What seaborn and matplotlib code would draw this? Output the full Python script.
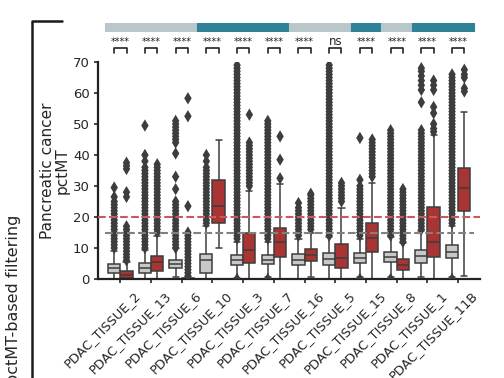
import matplotlib
matplotlib.use("Agg")
import matplotlib.pyplot as plt
from matplotlib.lines import Line2D
from matplotlib.transforms import ScaledTranslation
import seaborn as sns
import pandas as pd

samples = ["PDAC_TISSUE_2", "PDAC_TISSUE_13", "PDAC_TISSUE_6", "PDAC_TISSUE_10",
           "PDAC_TISSUE_3", "PDAC_TISSUE_7", "PDAC_TISSUE_16", "PDAC_TISSUE_5",
           "PDAC_TISSUE_15", "PDAC_TISSUE_8", "PDAC_TISSUE_1", "PDAC_TISSUE_11B"]
conditions = ["before", "after"]
sample_group = ["low", "low", "low", "high", "high", "high",
                "low", "low", "high", "low", "high", "high"]
pvalue_labels = ["****", "****", "****", "****", "****", "****",
                 "****", "ns", "****", "****", "****", "****"]
yticks = [0, 10, 20, 30, 40, 50, 60, 70]
threshold_after = 20
threshold_before = 15

# box statistics: lower whisker, Q1, median, Q3, upper whisker
before_lo = [0, 0, 0.5, 0, 0.3, 0.5, 0, 0, 0.5, 0.5, 0.5, 0.5]
before_q1 = [2.0, 2.0, 3.5, 1.8, 4.5, 4.7, 4.4, 4.5, 5.1, 5.6, 5.1, 6.7]
before_med = [3.4, 3.5, 4.8, 6.0, 6.1, 6.1, 6.2, 6.5, 6.9, 7.2, 7.3, 8.8]
before_q3 = [5.0, 5.2, 6.1, 8.1, 7.7, 7.7, 8.0, 8.3, 8.3, 8.8, 9.5, 11.0]
before_hi = [9, 9.5, 10, 17, 12, 12, 13, 13.5, 13, 13.5, 15.5, 17]

after_lo = [0, 0, 0, 10, 0, 0, 0.7, 0, 0, 0, 0, 1]
after_q1 = [0.3, 2.7, 0, 18, 5.1, 7.1, 5.8, 3.4, 8.8, 2.9, 7.2, 22]
after_med = [1.2, 5.5, 0, 23.5, 9.4, 12, 7.7, 6.8, 13.2, 4.6, 12, 29.5]
after_q3 = [2.6, 7.3, 0.3, 32, 15, 16.3, 9.6, 11.2, 18, 6.5, 23.3, 35.7]
after_hi = [5.5, 14, 0.6, 45, 28.5, 30.5, 15, 22.8, 31, 11.5, 46.5, 54]

# outlier values (diamonds)
fliers_before = [
    [10, 11, 12, 13, 14, 15, 16, 17, 18, 19, 20, 21, 22, 23, 24, 25, 26.5, 29.5],
    [10, 11, 12, 13, 14, 15, 16, 17, 18, 19, 20, 21, 22, 23, 24, 25, 26, 27, 28,
     29, 30, 31, 32, 33, 34, 35, 36, 38, 40, 49.5],
    [10, 11, 12, 13, 14, 15, 16, 17, 18, 19, 20, 21, 22, 23, 24, 25, 29, 33,
     40.5, 44, 45, 46, 47, 48, 49, 50, 51],
    [18, 19, 20, 21, 22, 23, 24, 25, 26, 27, 28, 29, 30, 31, 32, 33, 34, 35, 36,
     38, 40],
    [0, 13, 14, 15, 16, 17, 18, 19, 20, 21, 22, 23, 24, 25, 26, 27, 28, 29, 30,
     31, 32, 33, 34, 35, 36, 37, 38, 39, 40, 41, 42, 43, 44, 45, 46, 47, 48, 49,
     50, 51, 52, 53, 54, 55, 56, 57, 58, 59, 60, 61, 62, 63, 64, 65, 66, 67, 68,
     69],
    [0, 13, 14, 15, 16, 17, 18, 19, 20, 21, 22, 23, 24, 25, 26, 27, 28, 29, 30,
     31, 32, 33, 34, 35, 36, 37, 38, 39, 40, 41, 42, 43, 44, 45, 46, 47, 48, 49,
     50, 51],
    [14, 15, 16, 17, 18, 19, 20, 21, 22, 23, 24.5],
    [14, 15, 16, 17, 18, 19, 20, 21, 22, 23, 24, 25, 26, 27, 28, 29, 30, 31, 32,
     33, 34, 35, 36, 37, 38, 39, 40, 41, 42, 43, 44, 45, 46, 47, 48, 49, 50, 51,
     52, 53, 54, 55, 56, 57, 58, 59, 60, 61, 62, 63, 64, 65, 66, 67, 68, 69],
    [0, 14, 15, 16, 17, 18, 19, 20, 21, 22, 23, 24, 25, 26, 27, 28, 29, 30, 32,
     45.5],
    [0, 14, 15, 16, 17, 18, 19, 20, 21, 22, 23, 24, 25, 26, 27, 28, 29, 30, 31,
     32, 33, 34, 35, 36, 37, 38, 39, 40, 41, 42, 43, 44, 45, 46, 47, 48],
    [16, 17, 18, 19, 20, 21, 22, 23, 24, 25, 26, 27, 28, 29, 30, 31, 32, 33, 34,
     35, 36, 37, 38, 39, 40, 41, 42, 43, 44, 45, 46, 47, 48, 57, 61, 62.5, 64,
     65.5, 67, 68],
    [0, 18, 19, 20, 21, 22, 23, 24, 25, 26, 27, 28, 29, 30, 31, 32, 33, 34, 35,
     36, 37, 38, 39, 40, 41, 42, 43, 44, 45, 46, 47, 48, 49, 50, 51, 52, 53, 54,
     55, 56, 57, 58, 59, 60, 61, 62, 63, 64, 65, 66],
]
fliers_after = [
    [6, 7, 8, 9, 10, 11, 12, 13, 14, 15, 16, 17, 26.5, 28, 35.5, 36.5, 37.5],
    [15, 16, 17, 18, 19, 20, 21, 22, 23, 24, 25, 26, 27, 28, 29, 30, 31, 32, 33,
     34, 35, 36, 37],
    [1, 2, 3, 4, 5, 6, 7, 8, 9, 10, 11, 12, 13, 14, 15, 23.5, 52.5, 58.3],
    [],
    [30, 31, 32, 33, 34, 35, 36, 37, 38, 39, 40, 41, 42, 43, 44, 53],
    [32.5, 38.5, 46],
    [16, 17, 18, 19, 20, 21, 22, 23, 24, 25, 26, 27, 27.5],
    [25, 26, 27, 28, 29, 30, 31],
    [33, 34, 35, 36, 37, 38, 39, 40, 41, 42, 43, 44, 45],
    [12, 13, 14, 15, 16, 17, 18, 19, 20, 21, 22, 23, 24, 25, 26, 27, 28, 29],
    [47.5, 48.5, 50, 53.5, 55.5, 61, 62.5, 64],
    [60.5, 61.5, 65, 66, 67.5],
]

gray_box = "#c8c8c8"
red_box = "#a83434"
line_col = "#3d3d3d"
group_colors = {"low": "#b8c7ca", "high": "#2e8196"}

# tidy tables
box_rows = []
stats = {"before": (before_lo, before_q1, before_med, before_q3, before_hi),
         "after": (after_lo, after_q1, after_med, after_q3, after_hi)}
for cond, arrs in stats.items():
    for i, s in enumerate(samples):
        for arr in arrs:
            box_rows.append((s, cond, arr[i]))
box_df = pd.DataFrame(box_rows, columns=["sample", "condition", "pctMT"])

fl_rows = []
for cond, fl in (("before", fliers_before), ("after", fliers_after)):
    for i, s in enumerate(samples):
        for v in fl[i]:
            fl_rows.append((s, cond, v))
fl_df = pd.DataFrame(fl_rows, columns=["sample", "condition", "pctMT"])

sns.set_style("ticks")
plt.rcParams["font.family"] = ["DejaVu Sans"]

fig = plt.figure(figsize=(5.04, 3.78), dpi=100)
ax = fig.add_axes([98 / 504, 1 - 279 / 378, 382 / 504, 217 / 378])

sns.boxplot(data=box_df, x="sample", y="pctMT", hue="condition", order=samples,
            hue_order=conditions, palette=[gray_box, red_box], saturation=1,
            width=0.8, whis=(0, 100), showfliers=False, linecolor=line_col,
            linewidth=1.1, legend=False, ax=ax)
sns.stripplot(data=fl_df, x="sample", y="pctMT", hue="condition", order=samples,
              hue_order=conditions, palette=[line_col, line_col], dodge=True,
              jitter=False, marker="d", size=6.3, linewidth=0, legend=False,
              ax=ax, zorder=3)

ax.axhline(threshold_after, color="#c85a5a", ls="--", lw=1.5, zorder=4)
ax.hlines(threshold_before, -0.5, len(samples) - 0.5, color="#808080", ls="--",
          lw=1.5, zorder=4)

ax.set_xlim(-0.728, 11.71)
ax.set_ylim(0, 70)
ax.set_yticks(yticks)
ax.tick_params(axis="y", labelsize=9.5, length=3, width=1.2, pad=3)
ax.tick_params(axis="x", labelsize=9.3, length=3, width=1.2, pad=2)
ax.set_xticks(range(len(samples)))
ax.set_xticklabels(samples, rotation=45, ha="right", rotation_mode="anchor")
for lab in ax.get_xticklabels():
    lab.set_transform(lab.get_transform()
                      + ScaledTranslation(13 / 100, -3 / 100, fig.dpi_scale_trans))
ax.set_xlabel("")
ax.set_ylabel("Pancreatic cancer\npctMT", fontsize=11, labelpad=2, linespacing=1.0)
sns.despine(ax=ax)
for sp in ("left", "bottom"):
    ax.spines[sp].set_linewidth(1.6)
    ax.spines[sp].set_color("#222222")

# significance annotations
for i, lab in enumerate(pvalue_labels):
    ax.plot([i - 0.2, i - 0.2, i + 0.2, i + 0.2], [72.9, 74.6, 74.6, 72.9],
            color="#222222", lw=1.2, clip_on=False)
    ax.text(i, 75.5, lab, ha="center", va="baseline",
            fontsize=7 if lab != "ns" else 8.5, clip_on=False, color="#222222")

# group colour strip
ax_bar = fig.add_axes([98 / 504, 1 - 32 / 378, 378 / 504, 9 / 378])
bar_cols = [group_colors[g] for g in sample_group]
ax_bar.bar(range(len(samples)), [1] * len(samples), width=1.0,
           color=bar_cols, edgecolor=bar_cols, linewidth=0.8)
ax_bar.set_xlim(-0.728, 11.58)
ax_bar.set_ylim(0, 1)
ax_bar.axis("off")

# outer row label
fig.add_artist(Line2D([32 / 504, 32 / 504, 62 / 504],
                      [-0.05, 1 - 20.7 / 378, 1 - 20.7 / 378],
                      transform=fig.transFigure, color="#1a1a1a", lw=1.8))
fig.text(14 / 504, 1 - 215 / 378, "pctMT-based filtering", rotation=90,
         ha="center", va="top", fontsize=11.5)

fig.savefig("out.png", dpi=100)
